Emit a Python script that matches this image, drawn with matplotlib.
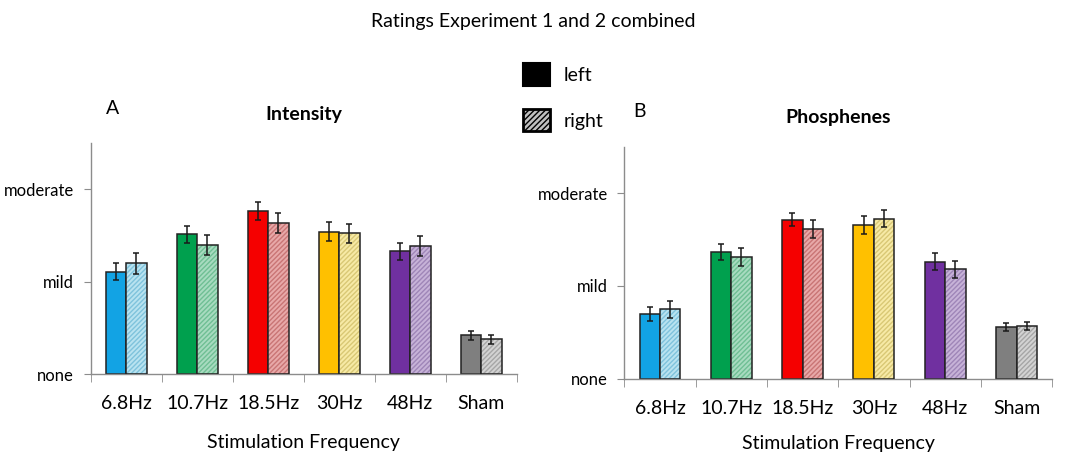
"""
Ratings of stimulation intensity and phosphenes, experiments 1 and 2 combined.
"""
import matplotlib
matplotlib.use("Agg")
import matplotlib.pyplot as plt
from matplotlib.patches import Patch
import numpy as np

plt.rcParams["font.family"] = ["Lato", "DejaVu Sans"]

freqs = ["6.8Hz", "10.7Hz", "18.5Hz", "30Hz", "48Hz", "Sham"]
levels = ["none", "mild", "moderate"]

intensity_left = [1.11, 1.515, 1.765, 1.545, 1.33, 0.42]
intensity_left_err = [0.09, 0.095, 0.10, 0.10, 0.09, 0.047]
intensity_right = [1.20, 1.40, 1.637, 1.526, 1.386, 0.377]
intensity_right_err = [0.11, 0.11, 0.104, 0.104, 0.108, 0.05]

phos_left = [0.697, 1.364, 1.713, 1.655, 1.26, 0.557]
phos_left_err = [0.08, 0.09, 0.068, 0.093, 0.093, 0.047]
phos_right = [0.747, 1.307, 1.612, 1.724, 1.178, 0.567]
phos_right_err = [0.09, 0.097, 0.093, 0.093, 0.093, 0.047]

dark = ["#12a3e4", "#00a04e", "#f50000", "#ffc000", "#7030a0", "#7f7f7f"]
light = ["#b9e3f0", "#a8dbc0", "#e8a9a9", "#f7eaa6", "#c7b3d8", "#d3d3d3"]
hatch_col = ["#7fc3dc", "#6fbf94", "#c97575", "#d9c875", "#9f86b8", "#a6a6a6"]

AXIS_GRAY = "#8c8c8c"


def draw_panel(ax, left, left_err, right, right_err, title, letter, letter_x, xlabel_pad):
    x = np.arange(len(freqs))
    w = 0.286
    ax.bar(x - w / 2, left, w, color=dark, edgecolor="#222222", lw=1.1, zorder=2)
    # hatched "right" bars: fill, hatch layer, outline
    ax.bar(x + w / 2, right, w, color=light, lw=0, zorder=2)
    for i in range(len(freqs)):
        ax.bar(x[i] + w / 2, right[i], w, facecolor="none", edgecolor=hatch_col[i],
               hatch="///////", lw=0, zorder=3)
    ax.bar(x + w / 2, right, w, facecolor="none", edgecolor="#222222", lw=1.1, zorder=4)
    ax.errorbar(x - w / 2, left, yerr=left_err, fmt="none", ecolor="#1a1a1a",
                elinewidth=1.1, capsize=2.5, capthick=1.1, zorder=5)
    ax.errorbar(x + w / 2, right, yerr=right_err, fmt="none", ecolor="#1a1a1a",
                elinewidth=1.1, capsize=2.5, capthick=1.1, zorder=5)

    ax.set_xlim(-0.5, len(freqs) - 0.5)
    ax.set_ylim(0, 2.5)
    ax.set_yticks([0, 1, 2])
    ax.set_yticklabels(levels, fontsize=12)
    ax.set_xticks(x)
    ax.set_xticklabels(freqs, fontsize=14)
    ax.set_xticks(np.arange(-0.5, len(freqs)), minor=True)
    ax.tick_params(axis="x", which="major", length=0, pad=15)
    ax.tick_params(axis="x", which="minor", length=6, direction="out", color=AXIS_GRAY)
    ax.tick_params(axis="y", length=5, direction="out", color=AXIS_GRAY, pad=7)
    for s in ["top", "right"]:
        ax.spines[s].set_visible(False)
    for s in ["left", "bottom"]:
        ax.spines[s].set_color(AXIS_GRAY)
        ax.spines[s].set_linewidth(1.0)
    ax.set_xlabel("Stimulation Frequency", fontsize=14, labelpad=xlabel_pad)
    ax.set_title(title, fontsize=14, fontweight="bold", pad=17)
    ax.text(letter_x, 1.15, letter, transform=ax.transAxes, fontsize=14, ha="left", va="center")


fig = plt.figure(figsize=(10.67, 4.55), dpi=100)
ax1 = fig.add_axes([0.085, 0.1774, 0.3993, 0.5077])
ax2 = fig.add_axes([0.5851, 0.1677, 0.401, 0.51])

draw_panel(ax1, intensity_left, intensity_left_err, intensity_right, intensity_right_err,
           "Intensity", "A", 0.035, 16)
draw_panel(ax2, phos_left, phos_left_err, phos_right, phos_right_err,
           "Phosphenes", "B", 0.02, 13)

fig.text(0.5, 0.952, "Ratings Experiment 1 and 2 combined", ha="center", va="center", fontsize=14)

handles = [
    Patch(facecolor="black", edgecolor="black", lw=1.5),
    Patch(facecolor="#c0c0c0", edgecolor="black", hatch="//////", lw=2),
]
fig.legend(handles, ["left", "right"], loc="center left", bbox_to_anchor=(0.474, 0.786),
           frameon=False, fontsize=14, handlelength=1.4, handleheight=1.4,
           labelspacing=1.2, handletextpad=0.7)

fig.savefig("out.png", dpi=100)
